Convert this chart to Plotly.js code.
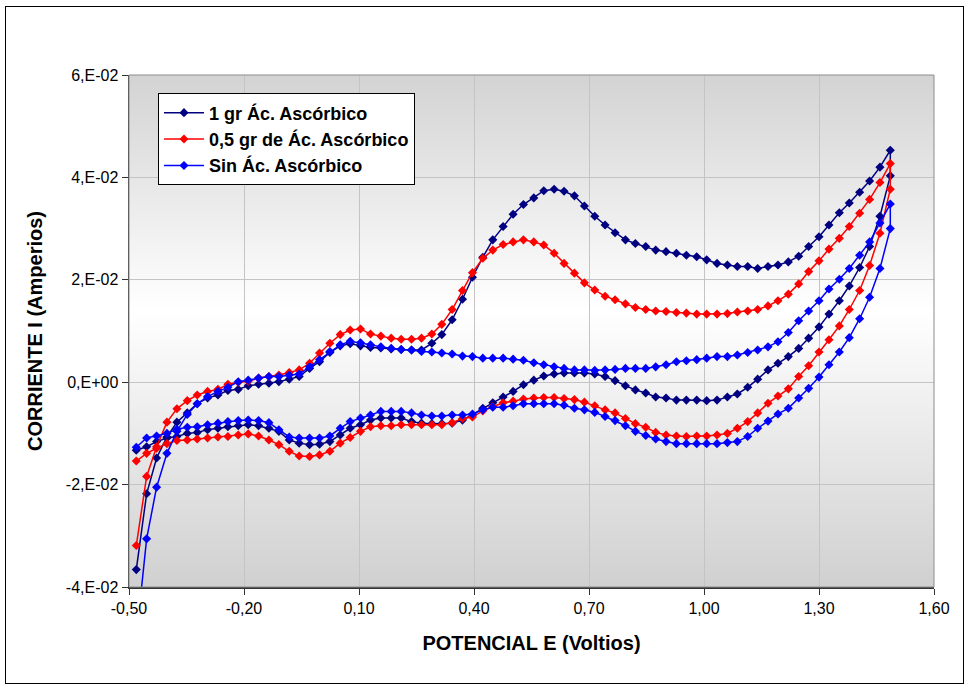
<!DOCTYPE html>
<html>
<head>
<meta charset="utf-8">
<script src="https://cdn.plot.ly/plotly-3.0.1.min.js"></script>
<style>
  html, body { margin: 0; padding: 0; background: #ffffff; }
  #wrap { position: relative; width: 970px; height: 688px; }
  #chart { width: 970px; height: 688px; }
  #frame { position: absolute; left: 5px; top: 6px; width: 957px; height: 676px; border: 1.5px solid #000; pointer-events: none; }
</style>
</head>
<body>
<div id="wrap"><div id="chart"></div><div id="frame"></div></div>
<script>
// Potential grid (V) shared by the forward sweep; the return sweep uses it in reverse order
const E = [-0.481,-0.454,-0.428,-0.401,-0.375,-0.348,-0.322,-0.295,-0.268,-0.242,
-0.215,-0.189,-0.162,-0.135,-0.109,-0.082,-0.056,-0.029,-0.003,0.024,
0.051,0.077,0.104,0.130,0.157,0.184,0.210,0.237,0.263,0.290,
0.316,0.343,0.370,0.396,0.423,0.449,0.476,0.502,0.529,0.556,
0.582,0.609,0.635,0.662,0.688,0.715,0.742,0.768,0.795,0.821,
0.848,0.874,0.901,0.928,0.954,0.981,1.007,1.034,1.061,1.087,
1.114,1.140,1.167,1.193,1.220,1.247,1.273,1.300,1.326,1.353,
1.379,1.406,1.432,1.459,1.486];

// 1 gr Ác. Ascórbico
const navyFwd = [-0.0366,-0.0218,-0.0148,-0.0107,-0.0078,-0.0060,-0.0042,-0.0031,-0.0025,-0.0016,
-0.0014,-0.0007,-0.0004,-0.0002,0.0001,0.0006,0.0011,0.0027,0.0040,0.0058,
0.0071,0.0075,0.0071,0.0068,0.0067,0.0065,0.0064,0.0063,0.0063,0.0076,
0.0093,0.0122,0.0162,0.0205,0.0244,0.0278,0.0304,0.0328,0.0347,0.0360,
0.0374,0.0377,0.0373,0.0364,0.0344,0.0324,0.0307,0.0292,0.0278,0.0271,
0.0265,0.0258,0.0255,0.0252,0.0248,0.0245,0.0239,0.0232,0.0229,0.0226,
0.0226,0.0222,0.0226,0.0229,0.0235,0.0246,0.0265,0.0284,0.0307,0.0331,
0.0350,0.0371,0.0393,0.0420,0.0453];
const navyRev = [0.0403,0.0324,0.0265,0.0224,0.0188,0.0159,0.0133,0.0108,0.0086,0.0066,
0.0050,0.0037,0.0024,0.0006,-0.0010,-0.0023,-0.0029,-0.0035,-0.0036,-0.0035,
-0.0035,-0.0035,-0.0031,-0.0029,-0.0021,-0.0015,-0.0007,0.0003,0.0011,0.0016,
0.0018,0.0018,0.0018,0.0016,0.0012,0.0004,-0.0005,-0.0018,-0.0029,-0.0040,
-0.0051,-0.0064,-0.0074,-0.0080,-0.0081,-0.0081,-0.0080,-0.0077,-0.0070,-0.0070,
-0.0070,-0.0074,-0.0083,-0.0090,-0.0103,-0.0116,-0.0121,-0.0122,-0.0119,-0.0113,
-0.0096,-0.0090,-0.0085,-0.0083,-0.0085,-0.0087,-0.0090,-0.0093,-0.0098,-0.0100,
-0.0106,-0.0109,-0.0116,-0.0126,-0.0133];

// 0,5 gr de Ác. Ascórbico
const redFwd = [-0.0319,-0.0184,-0.0126,-0.0078,-0.0052,-0.0036,-0.0025,-0.0018,-0.0014,-0.0004,
0.0000,0.0002,0.0008,0.0011,0.0014,0.0019,0.0024,0.0037,0.0057,0.0076,
0.0093,0.0102,0.0104,0.0094,0.0090,0.0086,0.0084,0.0084,0.0086,0.0094,
0.0113,0.0142,0.0179,0.0214,0.0242,0.0258,0.0269,0.0274,0.0278,0.0274,
0.0268,0.0252,0.0232,0.0213,0.0194,0.0180,0.0168,0.0161,0.0153,0.0146,
0.0142,0.0139,0.0138,0.0136,0.0135,0.0133,0.0133,0.0133,0.0134,0.0137,
0.0139,0.0142,0.0149,0.0159,0.0172,0.0192,0.0216,0.0237,0.0260,0.0281,
0.0304,0.0330,0.0357,0.0390,0.0427];
const redRev = [0.0377,0.0291,0.0228,0.0179,0.0142,0.0110,0.0083,0.0059,0.0032,0.0011,
-0.0013,-0.0027,-0.0041,-0.0060,-0.0077,-0.0090,-0.0100,-0.0103,-0.0105,-0.0105,
-0.0106,-0.0105,-0.0103,-0.0098,-0.0088,-0.0081,-0.0071,-0.0060,-0.0054,-0.0046,
-0.0039,-0.0034,-0.0032,-0.0030,-0.0030,-0.0031,-0.0033,-0.0037,-0.0040,-0.0048,
-0.0056,-0.0068,-0.0071,-0.0079,-0.0083,-0.0083,-0.0083,-0.0083,-0.0083,-0.0085,
-0.0085,-0.0087,-0.0096,-0.0108,-0.0119,-0.0135,-0.0142,-0.0145,-0.0144,-0.0135,
-0.0122,-0.0113,-0.0105,-0.0101,-0.0103,-0.0106,-0.0107,-0.0109,-0.0111,-0.0113,
-0.0114,-0.0120,-0.0129,-0.0139,-0.0154];

// Sin Ác. Ascórbico
const blueFwd = [-0.0500,-0.0306,-0.0205,-0.0139,-0.0096,-0.0063,-0.0042,-0.0028,-0.0018,-0.0010,
0.0001,0.0004,0.0008,0.0011,0.0011,0.0014,0.0016,0.0030,0.0044,0.0060,
0.0073,0.0080,0.0077,0.0073,0.0069,0.0066,0.0064,0.0063,0.0060,0.0059,
0.0057,0.0055,0.0051,0.0050,0.0047,0.0047,0.0047,0.0045,0.0043,0.0038,
0.0034,0.0030,0.0027,0.0024,0.0024,0.0023,0.0024,0.0025,0.0027,0.0027,
0.0027,0.0030,0.0034,0.0040,0.0042,0.0044,0.0047,0.0050,0.0050,0.0053,
0.0058,0.0063,0.0069,0.0079,0.0097,0.0120,0.0139,0.0159,0.0182,0.0201,
0.0222,0.0248,0.0274,0.0311,0.0348];
const blueRev = [0.0300,0.0222,0.0166,0.0124,0.0087,0.0059,0.0034,0.0010,-0.0012,-0.0031,
-0.0051,-0.0062,-0.0076,-0.0090,-0.0106,-0.0116,-0.0118,-0.0120,-0.0120,-0.0120,
-0.0120,-0.0120,-0.0116,-0.0111,-0.0104,-0.0096,-0.0085,-0.0075,-0.0067,-0.0059,
-0.0054,-0.0051,-0.0045,-0.0042,-0.0042,-0.0042,-0.0042,-0.0046,-0.0049,-0.0049,
-0.0054,-0.0062,-0.0064,-0.0064,-0.0066,-0.0066,-0.0064,-0.0060,-0.0057,-0.0057,
-0.0057,-0.0064,-0.0070,-0.0077,-0.0090,-0.0105,-0.0109,-0.0109,-0.0109,-0.0107,
-0.0093,-0.0079,-0.0075,-0.0074,-0.0075,-0.0077,-0.0080,-0.0083,-0.0087,-0.0088,
-0.0092,-0.0100,-0.0105,-0.0109,-0.0127];

const seriesNames = ['1 gr Ác. Ascórbico', '0,5 gr de Ác. Ascórbico', 'Sin Ác. Ascórbico'];
const seriesColors = ['#000080', '#FF0000', '#0000FF'];

const xTickVals = [-0.5, -0.2, 0.1, 0.4, 0.7, 1.0, 1.3, 1.6];
const xTickText = ['-0,50', '-0,20', '0,10', '0,40', '0,70', '1,00', '1,30', '1,60'];
const yTickVals = [-0.04, -0.02, 0, 0.02, 0.04, 0.06];
const yTickText = ['-4,E-02', '-2,E-02', '0,E+00', '2,E-02', '4,E-02', '6,E-02'];

const xTitle = 'POTENCIAL E (Voltios)';
const yTitle = 'CORRIENTE I (Amperios)';

const Erev = E.slice().reverse();
const sweeps = [[navyFwd, navyRev], [redFwd, redRev], [blueFwd, blueRev]];

const traces = sweeps.map((s, i) => ({
  type: 'scatter',
  mode: 'lines+markers',
  name: seriesNames[i],
  x: E.concat(Erev),
  y: s[0].concat(s[1]),
  line: { color: seriesColors[i], width: 1.5 },
  marker: { symbol: 'diamond', size: 7, color: seriesColors[i] },
  cliponaxis: true
}));

const grad = "<svg xmlns='http://www.w3.org/2000/svg' width='100' height='100' preserveAspectRatio='none'>" +
  "<defs><linearGradient id='g' x1='0' y1='0' x2='0' y2='1'>" +
  "<stop offset='0' stop-color='#d3d3d3'/><stop offset='0.46' stop-color='#ffffff'/>" +
  "<stop offset='1' stop-color='#d0d0d0'/></linearGradient></defs>" +
  "<rect width='100' height='100' fill='url(#g)'/></svg>";

const layout = {
  width: 970, height: 688,
  margin: { l: 129, r: 36, t: 75, b: 101 },
  paper_bgcolor: '#ffffff',
  plot_bgcolor: '#ffffff',
  font: { family: 'Liberation Sans, Arial, sans-serif', color: '#000' },
  showlegend: true,
  legend: {
    x: 0.036, y: 0.964, xanchor: 'left', yanchor: 'top',
    bgcolor: '#ffffff', bordercolor: '#000', borderwidth: 1,
    font: { size: 18, weight: 'bold', family: 'Liberation Sans, Arial, sans-serif' },
    itemwidth: 40, tracegroupgap: 0
  },
  xaxis: {
    range: [-0.5, 1.6], tickvals: xTickVals, ticktext: xTickText,
    showgrid: true, gridcolor: '#c4c4c4', gridwidth: 1,
    zeroline: false, showline: true, linecolor: '#333', linewidth: 1.5,
    ticks: 'outside', ticklen: 6, tickcolor: '#333',
    tickfont: { size: 16 },
    title: { text: xTitle, font: { size: 20, weight: 'bold' }, standoff: 20 }
  },
  yaxis: {
    range: [-0.04, 0.06], tickvals: yTickVals, ticktext: yTickText,
    showgrid: true, gridcolor: '#c4c4c4', gridwidth: 1,
    zeroline: false, showline: true, linecolor: '#333', linewidth: 1.5,
    ticks: 'outside', ticklen: 6, tickcolor: '#333',
    tickfont: { size: 16 },
    title: { text: yTitle, font: { size: 20, weight: 'bold' }, standoff: 18 }
  },
  images: [{
    source: 'data:image/svg+xml;charset=utf-8,' + encodeURIComponent(grad),
    xref: 'paper', yref: 'paper', x: 0, y: 1, sizex: 1, sizey: 1,
    xanchor: 'left', yanchor: 'top', sizing: 'stretch', layer: 'below'
  }],
  shapes: [{
    type: 'rect', xref: 'paper', yref: 'paper', x0: 0, x1: 1, y0: 0, y1: 1,
    line: { color: '#8c8c8c', width: 1 }, fillcolor: 'rgba(0,0,0,0)', layer: 'above'
  }]
};

Plotly.newPlot('chart', traces, layout, { displayModeBar: false, staticPlot: true });
</script>
</body>
</html>
